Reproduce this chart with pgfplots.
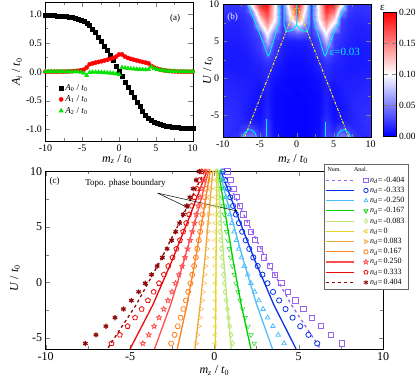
\documentclass[border=0pt]{standalone}
\usepackage{fontspec}
\setmainfont{Liberation Serif}
\usepackage{pgfplots}
\pgfplotsset{compat=1.18}
\usepackage{pgfplotstable}
\usetikzlibrary{plotmarks}

\definecolor{cpur}{RGB}{150,100,240}
\definecolor{cblu}{RGB}{10,50,230}
\definecolor{clbl}{RGB}{80,190,250}
\definecolor{cgrn}{RGB}{0,210,0}
\definecolor{clgr}{RGB}{190,230,120}
\definecolor{cyel}{RGB}{230,210,40}
\definecolor{clor}{RGB}{240,170,60}
\definecolor{corg}{RGB}{255,130,30}
\definecolor{cpnk}{RGB}{255,80,80}
\definecolor{cred}{RGB}{235,10,10}
\definecolor{cdrd}{RGB}{140,10,10}
\definecolor{ccyan}{RGB}{0,235,245}

\pgfdeclareplotmark{hexagon}{%
  \pgfpathmoveto{\pgfpointpolar{0}{\pgfplotmarksize}}%
  \pgfpathlineto{\pgfpointpolar{60}{\pgfplotmarksize}}%
  \pgfpathlineto{\pgfpointpolar{120}{\pgfplotmarksize}}%
  \pgfpathlineto{\pgfpointpolar{180}{\pgfplotmarksize}}%
  \pgfpathlineto{\pgfpointpolar{240}{\pgfplotmarksize}}%
  \pgfpathlineto{\pgfpointpolar{300}{\pgfplotmarksize}}%
  \pgfpathclose\pgfusepathqstroke}
\pgfdeclareplotmark{ostar}{%
  \pgfpathmoveto{\pgfpointpolar{90}{\pgfplotmarksize}}%
  \pgfpathlineto{\pgfpointpolar{126}{0.45\pgfplotmarksize}}%
  \pgfpathlineto{\pgfpointpolar{162}{\pgfplotmarksize}}%
  \pgfpathlineto{\pgfpointpolar{198}{0.45\pgfplotmarksize}}%
  \pgfpathlineto{\pgfpointpolar{234}{\pgfplotmarksize}}%
  \pgfpathlineto{\pgfpointpolar{270}{0.45\pgfplotmarksize}}%
  \pgfpathlineto{\pgfpointpolar{306}{\pgfplotmarksize}}%
  \pgfpathlineto{\pgfpointpolar{342}{0.45\pgfplotmarksize}}%
  \pgfpathlineto{\pgfpointpolar{18}{\pgfplotmarksize}}%
  \pgfpathlineto{\pgfpointpolar{54}{0.45\pgfplotmarksize}}%
  \pgfpathclose\pgfusepathqstroke}

\newcommand{\sub}[1]{\textsubscript{#1}}
\newcommand{\mzlab}{\textit{m}\sub{\textit{z}} / \textit{t}\sub{0}}
\newcommand{\Ulab}{\textit{U} / \textit{t}\sub{0}}
\newcommand{\nd}{\textit{n}\sub{\textit{d}}=\,}

\pgfplotstableread{
m A0 A1 A2
-10.0 0.980 0.002 0.002
-9.6 0.978 0.002 0.002
-9.2 0.976 0.002 0.002
-8.8 0.974 0.002 0.002
-8.4 0.971 0.002 0.002
-8.0 0.968 0.003 0.002
-7.6 0.964 0.003 0.002
-7.2 0.959 0.004 0.002
-6.8 0.952 0.006 0.001
-6.4 0.943 0.009 0.001
-6.0 0.932 0.013 0.000
-5.6 0.917 0.018 0.000
-5.2 0.898 0.025 -0.008
-4.8 0.875 0.035 -0.022
-4.4 0.845 0.075 -0.065
-4.0 0.800 0.130 -0.012
-3.6 0.745 0.145 -0.008
-3.2 0.680 0.158 -0.008
-2.8 0.605 0.170 -0.010
-2.4 0.530 0.182 -0.012
-2.0 0.450 0.195 -0.015
-1.6 0.370 0.208 -0.018
-1.2 0.290 0.222 -0.022
-0.8 0.200 0.240 -0.027
-0.4 0.100 0.262 -0.035
0.0 0.010 0.300 -0.050
0.4 -0.085 0.300 0.075
0.8 -0.185 0.262 0.065
1.2 -0.275 0.240 0.058
1.6 -0.360 0.222 0.052
2.0 -0.440 0.208 0.048
2.4 -0.525 0.195 0.045
2.8 -0.600 0.183 0.042
3.2 -0.675 0.170 0.040
3.6 -0.745 0.158 0.038
4.0 -0.800 0.145 0.040
4.4 -0.845 0.100 0.085
4.8 -0.875 0.072 0.055
5.2 -0.898 0.052 0.040
5.6 -0.917 0.038 0.030
6.0 -0.932 0.027 0.022
6.4 -0.943 0.019 0.016
6.8 -0.952 0.013 0.011
7.2 -0.959 0.009 0.008
7.6 -0.964 0.006 0.006
8.0 -0.968 0.004 0.004
8.4 -0.971 0.003 0.003
8.8 -0.974 0.003 0.003
9.2 -0.976 0.002 0.002
9.6 -0.978 0.002 0.002
10.0 -0.980 0.002 0.002
}\tabA

\pgfplotstableread{
U s1 s2 s3 s4 s5 s6 s7 s8 s9 s10 s11
10 0.77 0.50 0.40 0.30 0.15 0.05 -0.20 -0.40 -0.55 -0.75 -0.90
9.225 0.95 0.65 0.50 0.35 0.17 0.05 -0.22 -0.46 -0.65 -0.89 -1.08
8.45 1.13 0.80 0.60 0.41 0.20 0.05 -0.25 -0.52 -0.75 -1.04 -1.26
7.675 1.32 0.95 0.70 0.47 0.23 0.05 -0.27 -0.57 -0.85 -1.18 -1.45
6.9 1.51 1.11 0.81 0.53 0.25 0.05 -0.30 -0.64 -0.95 -1.34 -1.64
6.125 1.72 1.28 0.92 0.59 0.28 0.05 -0.32 -0.70 -1.07 -1.50 -1.84
5.35 1.93 1.46 1.04 0.66 0.31 0.05 -0.35 -0.77 -1.18 -1.67 -2.06
4.575 2.16 1.65 1.17 0.73 0.34 0.05 -0.38 -0.84 -1.31 -1.85 -2.29
3.8 2.41 1.86 1.31 0.80 0.38 0.05 -0.41 -0.92 -1.44 -2.04 -2.53
3.025 2.68 2.07 1.45 0.88 0.41 0.05 -0.45 -1.01 -1.59 -2.25 -2.80
2.25 2.96 2.31 1.61 0.97 0.45 0.05 -0.48 -1.10 -1.74 -2.48 -3.08
1.475 3.28 2.57 1.78 1.07 0.49 0.05 -0.53 -1.20 -1.91 -2.73 -3.39
0.7 3.61 2.85 1.97 1.17 0.54 0.05 -0.57 -1.31 -2.10 -2.99 -3.73
-0.075 3.98 3.15 2.17 1.28 0.59 0.05 -0.62 -1.42 -2.30 -3.28 -4.10
-0.85 4.38 3.48 2.39 1.40 0.64 0.05 -0.67 -1.55 -2.51 -3.60 -4.49
-1.625 4.81 3.84 2.63 1.53 0.70 0.05 -0.72 -1.69 -2.75 -3.94 -4.92
-2.4 5.28 4.22 2.89 1.68 0.77 0.05 -0.78 -1.84 -3.00 -4.31 -5.39
-3.175 5.78 4.64 3.16 1.83 0.84 0.05 -0.85 -2.00 -3.28 -4.70 -5.89
-3.95 6.33 5.09 3.47 2.00 0.91 0.05 -0.92 -2.17 -3.57 -5.14 -6.43
-4.725 6.92 5.58 3.79 2.18 0.99 0.05 -1.00 -2.36 -3.89 -5.60 -7.02
-5.5 7.55 6.10 4.14 2.37 1.08 0.05 -1.08 -2.56 -4.24 -6.10 -7.65
}\tabM

\pgfplotstableread{
U l1 l2 l3 l4 l5 l6 l7 l8 l9 l10 l11
10 0.50 0.40 0.30 0.25 0.20 0.15 -0.10 -0.25 -0.35 -0.45 -0.60
6 1.78 1.38 0.99 0.67 0.38 0.13 -0.33 -0.68 -1.05 -1.45 -1.87
2 3.11 2.40 1.72 1.11 0.56 0.10 -0.57 -1.13 -1.79 -2.50 -3.19
-2 4.56 3.52 2.51 1.59 0.76 0.08 -0.84 -1.62 -2.59 -3.64 -4.63
-6 6.30 4.85 3.45 2.17 1.00 0.05 -1.15 -2.20 -3.55 -5.00 -6.35
}\tabL

\pgfplotsset{
  every axis/.append style={
    /pgf/number format/assume math mode=true,
    tick align=inside,
    label style={font=\fontsize{12}{14}\selectfont},
  },
  mk/.style={only marks, mark size=2.6pt, mark options={solid, line width=0.8pt}},
  ln/.style={line width=1.3pt, forget plot},
  lgi/.style n args={3}{legend image code/.code={
     \draw[#1, line width=1.1pt] (0pt,0pt) -- (28pt,0pt);
     \draw[#2, solid, line width=0.8pt] plot[#3] coordinates {(40pt,0pt)};}},
}

\begin{document}
\begin{tikzpicture}
\useasboundingbox (0pt,0pt) rectangle (415pt,378pt);

%% ---------------- (a)
\begin{axis}[
  at={(45.5pt,237pt)}, anchor=south west, scale only axis,
  width=147.2pt, height=138.5pt,
  xmin=-10, xmax=10, ymin=-1.2, ymax=1.2,
  xtick={-10,-5,0,5,10}, ytick={-1,-0.5,0,0.5,1},
  minor x tick num=1, minor y tick num=1,
  tick label style={font=\fontsize{10}{12}\selectfont},
  yticklabel style={/pgf/number format/.cd, fixed, fixed zerofill, precision=1},
  xlabel={\mzlab}, ylabel={\textit{A}\sub{\textit{i}} / \textit{t}\sub{0}},
  xlabel style={at={(axis description cs:0.486,-0.13)}, anchor=center},
  ylabel style={at={(axis description cs:-0.194,0.5)}, anchor=center},
  legend style={at={(0.07,0.44)}, anchor=north west, draw=none, fill=none,
    font=\fontsize{9}{10}\selectfont, row sep=0pt},
  legend cell align=left,
]
\addplot[only marks, mark=square*, mark size=2pt, black] table[x=m,y=A0] {\tabA};
\addlegendentry{\textit{A}\sub{0} / \textit{t}\sub{0}}
\addplot[only marks, mark=*, mark size=2.1pt, red] table[x=m,y=A1] {\tabA};
\addlegendentry{\textit{A}\sub{1} / \textit{t}\sub{0}}
\addplot[only marks, mark=triangle*, mark size=2.5pt, green!90!black] table[x=m,y=A2] {\tabA};
\addlegendentry{\textit{A}\sub{2} / \textit{t}\sub{0}}
\node[font=\fontsize{9}{10}\selectfont] at (axis cs:7.6,0.93) {(a)};
\end{axis}

%% ---------------- (b)
\begin{axis}[
  at={(222.7pt,241pt)}, anchor=south west, scale only axis,
  width=148pt, height=132.5pt,
  xmin=-10, xmax=10, ymin=-8, ymax=10, enlargelimits=false,
  xtick={-10,-5,0,5,10}, ytick={-5,0,5,10},
  minor x tick num=1, minor y tick num=1,
  tick label style={font=\fontsize{10}{12}\selectfont},
  xlabel={\mzlab}, ylabel={\Ulab},
  xlabel style={at={(axis description cs:0.475,-0.167)}, anchor=center},
  ylabel style={at={(axis description cs:-0.099,0.5)}, anchor=center},
  axis on top,
  colormap={bwr}{rgb255=(0,0,255) rgb255=(255,255,255) rgb255=(255,0,0)},
  point meta min=0, point meta max=0.2,
  colorbar,
  colorbar style={scale only axis, at={(parent axis.north east)}, anchor=north west,
    xshift=4.3pt, yshift=-7.5pt, width=13pt, height=124pt,
    ytick={0,0.05,0.1,0.15,0.2},
    yticklabel style={font=\fontsize{9.5}{11}\selectfont, xshift=-1pt,
      /pgf/number format/.cd, fixed, fixed zerofill, precision=2}},
]
\addplot[surf, shader=interp, mesh/cols=21, point meta=explicit]
 table[x=m, y=U, meta=e, row sep=\\] {
m U e\\
-10 -8 0.018\\ -9 -8 0.016\\ -8 -8 0.020\\ -7 -8 0.042\\ -6 -8 0.050\\ -5 -8 0.022\\ -4 -8 0.025\\ -3 -8 0.006\\ -2 -8 0.003\\ -1 -8 0.002\\ 0 -8 0.002\\ 1 -8 0.002\\ 2 -8 0.003\\ 3 -8 0.006\\ 4 -8 0.025\\ 5 -8 0.022\\ 6 -8 0.050\\ 7 -8 0.042\\ 8 -8 0.020\\ 9 -8 0.016\\ 10 -8 0.018\\
-10 -7 0.019\\ -9 -7 0.017\\ -8 -7 0.016\\ -7 -7 0.024\\ -6 -7 0.030\\ -5 -7 0.015\\ -4 -7 0.022\\ -3 -7 0.005\\ -2 -7 0.003\\ -1 -7 0.002\\ 0 -7 0.002\\ 1 -7 0.002\\ 2 -7 0.003\\ 3 -7 0.005\\ 4 -7 0.022\\ 5 -7 0.015\\ 6 -7 0.030\\ 7 -7 0.024\\ 8 -7 0.016\\ 9 -7 0.017\\ 10 -7 0.019\\
-10 -6 0.020\\ -9 -6 0.018\\ -8 -6 0.015\\ -7 -6 0.013\\ -6 -6 0.012\\ -5 -6 0.008\\ -4 -6 0.020\\ -3 -6 0.004\\ -2 -6 0.003\\ -1 -6 0.002\\ 0 -6 0.002\\ 1 -6 0.002\\ 2 -6 0.003\\ 3 -6 0.004\\ 4 -6 0.020\\ 5 -6 0.008\\ 6 -6 0.012\\ 7 -6 0.013\\ 8 -6 0.015\\ 9 -6 0.018\\ 10 -6 0.020\\
-10 -5 0.019\\ -9 -5 0.018\\ -8 -5 0.016\\ -7 -5 0.011\\ -6 -5 0.008\\ -5 -5 0.006\\ -4 -5 0.015\\ -3 -5 0.004\\ -2 -5 0.003\\ -1 -5 0.002\\ 0 -5 0.002\\ 1 -5 0.002\\ 2 -5 0.003\\ 3 -5 0.004\\ 4 -5 0.015\\ 5 -5 0.006\\ 6 -5 0.008\\ 7 -5 0.011\\ 8 -5 0.016\\ 9 -5 0.018\\ 10 -5 0.019\\
-10 -4 0.018\\ -9 -4 0.017\\ -8 -4 0.016\\ -7 -4 0.012\\ -6 -4 0.008\\ -5 -4 0.006\\ -4 -4 0.013\\ -3 -4 0.004\\ -2 -4 0.003\\ -1 -4 0.002\\ 0 -4 0.002\\ 1 -4 0.002\\ 2 -4 0.003\\ 3 -4 0.004\\ 4 -4 0.013\\ 5 -4 0.006\\ 6 -4 0.008\\ 7 -4 0.012\\ 8 -4 0.016\\ 9 -4 0.017\\ 10 -4 0.018\\
-10 -3 0.017\\ -9 -3 0.016\\ -8 -3 0.015\\ -7 -3 0.013\\ -6 -3 0.009\\ -5 -3 0.006\\ -4 -3 0.012\\ -3 -3 0.004\\ -2 -3 0.003\\ -1 -3 0.002\\ 0 -3 0.002\\ 1 -3 0.002\\ 2 -3 0.003\\ 3 -3 0.004\\ 4 -3 0.012\\ 5 -3 0.006\\ 6 -3 0.009\\ 7 -3 0.013\\ 8 -3 0.015\\ 9 -3 0.016\\ 10 -3 0.017\\
-10 -2 0.016\\ -9 -2 0.015\\ -8 -2 0.014\\ -7 -2 0.013\\ -6 -2 0.010\\ -5 -2 0.007\\ -4 -2 0.012\\ -3 -2 0.005\\ -2 -2 0.003\\ -1 -2 0.003\\ 0 -2 0.002\\ 1 -2 0.003\\ 2 -2 0.003\\ 3 -2 0.005\\ 4 -2 0.012\\ 5 -2 0.007\\ 6 -2 0.010\\ 7 -2 0.013\\ 8 -2 0.014\\ 9 -2 0.015\\ 10 -2 0.016\\
-10 -1 0.015\\ -9 -1 0.014\\ -8 -1 0.013\\ -7 -1 0.012\\ -6 -1 0.011\\ -5 -1 0.008\\ -4 -1 0.013\\ -3 -1 0.006\\ -2 -1 0.004\\ -1 -1 0.003\\ 0 -1 0.003\\ 1 -1 0.003\\ 2 -1 0.004\\ 3 -1 0.006\\ 4 -1 0.013\\ 5 -1 0.008\\ 6 -1 0.011\\ 7 -1 0.012\\ 8 -1 0.013\\ 9 -1 0.014\\ 10 -1 0.015\\
-10 0 0.014\\ -9 0 0.013\\ -8 0 0.012\\ -7 0 0.011\\ -6 0 0.011\\ -5 0 0.011\\ -4 0 0.014\\ -3 0 0.007\\ -2 0 0.004\\ -1 0 0.003\\ 0 0 0.003\\ 1 0 0.003\\ 2 0 0.004\\ 3 0 0.007\\ 4 0 0.014\\ 5 0 0.011\\ 6 0 0.011\\ 7 0 0.011\\ 8 0 0.012\\ 9 0 0.013\\ 10 0 0.014\\
-10 1 0.012\\ -9 1 0.011\\ -8 1 0.010\\ -7 1 0.010\\ -6 1 0.011\\ -5 1 0.012\\ -4 1 0.016\\ -3 1 0.010\\ -2 1 0.006\\ -1 1 0.004\\ 0 1 0.004\\ 1 1 0.004\\ 2 1 0.006\\ 3 1 0.010\\ 4 1 0.016\\ 5 1 0.012\\ 6 1 0.011\\ 7 1 0.010\\ 8 1 0.010\\ 9 1 0.011\\ 10 1 0.012\\
-10 2 0.011\\ -9 2 0.010\\ -8 2 0.010\\ -7 2 0.010\\ -6 2 0.012\\ -5 2 0.014\\ -4 2 0.020\\ -3 2 0.013\\ -2 2 0.008\\ -1 2 0.005\\ 0 2 0.005\\ 1 2 0.005\\ 2 2 0.008\\ 3 2 0.013\\ 4 2 0.020\\ 5 2 0.014\\ 6 2 0.012\\ 7 2 0.010\\ 8 2 0.010\\ 9 2 0.010\\ 10 2 0.011\\
-10 3 0.011\\ -9 3 0.010\\ -8 3 0.010\\ -7 3 0.010\\ -6 3 0.013\\ -5 3 0.018\\ -4 3 0.030\\ -3 3 0.018\\ -2 3 0.010\\ -1 3 0.007\\ 0 3 0.006\\ 1 3 0.007\\ 2 3 0.010\\ 3 3 0.018\\ 4 3 0.030\\ 5 3 0.018\\ 6 3 0.013\\ 7 3 0.010\\ 8 3 0.010\\ 9 3 0.010\\ 10 3 0.011\\
-10 4 0.011\\ -9 4 0.010\\ -8 4 0.010\\ -7 4 0.012\\ -6 4 0.015\\ -5 4 0.022\\ -4 4 0.045\\ -3 4 0.022\\ -2 4 0.012\\ -1 4 0.008\\ 0 4 0.008\\ 1 4 0.008\\ 2 4 0.012\\ 3 4 0.022\\ 4 4 0.045\\ 5 4 0.022\\ 6 4 0.015\\ 7 4 0.012\\ 8 4 0.010\\ 9 4 0.010\\ 10 4 0.011\\
-10 5 0.012\\ -9 5 0.011\\ -8 5 0.011\\ -7 5 0.013\\ -6 5 0.017\\ -5 5 0.024\\ -4 5 0.074\\ -3 5 0.027\\ -2 5 0.015\\ -1 5 0.012\\ 0 5 0.012\\ 1 5 0.012\\ 2 5 0.015\\ 3 5 0.027\\ 4 5 0.074\\ 5 5 0.024\\ 6 5 0.017\\ 7 5 0.013\\ 8 5 0.011\\ 9 5 0.011\\ 10 5 0.012\\
-10 6 0.013\\ -9 6 0.012\\ -8 6 0.012\\ -7 6 0.015\\ -6 6 0.020\\ -5 6 0.030\\ -4 6 0.100\\ -3 6 0.043\\ -2 6 0.020\\ -1 6 0.030\\ 0 6 0.035\\ 1 6 0.030\\ 2 6 0.020\\ 3 6 0.043\\ 4 6 0.100\\ 5 6 0.030\\ 6 6 0.020\\ 7 6 0.015\\ 8 6 0.012\\ 9 6 0.012\\ 10 6 0.013\\
-10 7 0.015\\ -9 7 0.013\\ -8 7 0.013\\ -7 7 0.016\\ -6 7 0.022\\ -5 7 0.073\\ -4 7 0.130\\ -3 7 0.077\\ -2 7 0.022\\ -1 7 0.050\\ 0 7 0.080\\ 1 7 0.050\\ 2 7 0.022\\ 3 7 0.077\\ 4 7 0.130\\ 5 7 0.073\\ 6 7 0.022\\ 7 7 0.016\\ 8 7 0.013\\ 9 7 0.013\\ 10 7 0.015\\
-10 8 0.017\\ -9 8 0.015\\ -8 8 0.015\\ -7 8 0.018\\ -6 8 0.026\\ -5 8 0.116\\ -4 8 0.160\\ -3 8 0.106\\ -2 8 0.025\\ -1 8 0.080\\ 0 8 0.150\\ 1 8 0.080\\ 2 8 0.025\\ 3 8 0.106\\ 4 8 0.160\\ 5 8 0.116\\ 6 8 0.026\\ 7 8 0.018\\ 8 8 0.015\\ 9 8 0.015\\ 10 8 0.017\\
-10 9 0.020\\ -9 9 0.018\\ -8 9 0.018\\ -7 9 0.022\\ -6 9 0.054\\ -5 9 0.153\\ -4 9 0.177\\ -3 9 0.110\\ -2 9 0.025\\ -1 9 0.100\\ 0 9 0.180\\ 1 9 0.100\\ 2 9 0.025\\ 3 9 0.110\\ 4 9 0.177\\ 5 9 0.153\\ 6 9 0.054\\ 7 9 0.022\\ 8 9 0.018\\ 9 9 0.018\\ 10 9 0.020\\
-10 10 0.022\\ -9 10 0.020\\ -8 10 0.020\\ -7 10 0.025\\ -6 10 0.103\\ -5 10 0.186\\ -4 10 0.191\\ -3 10 0.113\\ -2 10 0.025\\ -1 10 0.120\\ 0 10 0.200\\ 1 10 0.120\\ 2 10 0.025\\ 3 10 0.113\\ 4 10 0.191\\ 5 10 0.186\\ 6 10 0.103\\ 7 10 0.025\\ 8 10 0.020\\ 9 10 0.020\\ 10 10 0.022\\
};
\addplot[yellow!90!orange, line width=1pt, dash pattern=on 3pt off 1.5pt on 1pt off 1.5pt] coordinates {(-7.02,-8) (0,10)};
\addplot[yellow!90!orange, line width=1pt, dash pattern=on 3pt off 1.5pt on 1pt off 1.5pt] coordinates {(7.02,-8) (0,10)};
\addplot[ccyan, line width=0.9pt] coordinates {(-6.6,10) (-6.0,8.5) (-5.4,7) (-4.8,5.5) (-4.3,4.2) (-4.0,3.3) (-3.85,3.0) (-3.65,3.3) (-3.4,4.2) (-3.1,5.2) (-2.8,6.2) (-2.5,7.2) (-2.3,8) (-2.3,10)};
\addplot[ccyan, line width=0.9pt] coordinates {(6.6,10) (6.0,8.5) (5.4,7) (4.8,5.5) (4.3,4.2) (4.0,3.3) (3.85,3.0) (3.65,3.3) (3.4,4.2) (3.1,5.2) (2.8,6.2) (2.5,7.2) (2.3,8) (2.3,10)};
\addplot[ccyan, line width=0.9pt] coordinates {(-1.7,10) (-1.7,7.2) (-1.4,6.3) (-0.6,6.5) (0,7.2) (0.6,6.5) (1.4,6.3) (1.7,7.2) (1.7,10)};
\addplot[ccyan, line width=0.9pt] coordinates {(0,7.2) (0,10)};
\addplot[ccyan, line width=0.9pt] coordinates {(-7.3,-8) (-7.0,-7.4) (-6.5,-7.0) (-6.0,-7.1) (-5.6,-7.5) (-5.45,-8)};
\addplot[ccyan, line width=0.9pt] coordinates {(7.3,-8) (7.0,-7.4) (6.5,-7.0) (6.0,-7.1) (5.6,-7.5) (5.45,-8)};
\addplot[ccyan, line width=0.9pt] coordinates {(-4.05,-8) (-4.05,-5.6)};
\addplot[ccyan, line width=0.9pt] coordinates {(3.85,-8) (3.85,-5.9)};
\node[font=\fontsize{11}{12}\selectfont, text=ccyan] at (axis cs:6.5,3.5) {ε=0.03};
\node[font=\fontsize{9}{10}\selectfont, text=white] at (axis cs:-8.66,8.3) {(b)};
\end{axis}
\node[font=\fontsize{11}{12}\selectfont, anchor=base, inner sep=0pt] at (382.5pt,367.5pt) {ε};

%% ---------------- (c)
\begin{axis}[
  at={(45.7pt,29pt)}, anchor=south west, scale only axis,
  width=337.3pt, height=177.5pt,
  xmin=-10, xmax=10, ymin=-6, ymax=10,
  xtick={-10,-5,0,5,10}, ytick={-5,0,5,10},
  minor x tick num=1, minor y tick num=1,
  tick label style={font=\fontsize{12}{14}\selectfont},
  xlabel={\mzlab}, ylabel={\Ulab},
  xlabel style={at={(axis description cs:0.5,-0.122)}, anchor=center},
  ylabel style={at={(axis description cs:-0.091,0.4)}, anchor=center},
  legend style={at={(1.074,1.042)}, anchor=north east, fill=white, draw=black!60,
    font=\fontsize{8}{9}\selectfont, inner sep=1.5pt, row sep=-0.6pt},
  legend cell align=left,
]
\addplot[cpur, ln, dashed] table[x=l1,y=U] {\tabL};
\addplot[cblu, ln] table[x=l2,y=U] {\tabL};
\addplot[clbl, ln] table[x=l3,y=U] {\tabL};
\addplot[cgrn, ln] table[x=l4,y=U] {\tabL};
\addplot[clgr, ln] table[x=l5,y=U] {\tabL};
\addplot[cyel, ln] table[x=l6,y=U] {\tabL};
\addplot[clor, ln] table[x=l7,y=U] {\tabL};
\addplot[corg, ln] table[x=l8,y=U] {\tabL};
\addplot[cpnk, ln] table[x=l9,y=U] {\tabL};
\addplot[cred, ln] table[x=l10,y=U] {\tabL};
\addplot[cdrd, ln, dashed] table[x=l11,y=U] {\tabL};

\addplot[mk, cpur, mark=square, forget plot] table[x=s1,y=U] {\tabM};
\addplot[mk, cblu, mark=o, forget plot] table[x=s2,y=U] {\tabM};
\addplot[mk, clbl, mark=triangle, forget plot] table[x=s3,y=U] {\tabM};
\addplot[mk, cgrn, mark=triangle, mark options={rotate=180}, forget plot] table[x=s4,y=U] {\tabM};
\addplot[mk, clgr, mark=diamond, forget plot] table[x=s5,y=U] {\tabM};
\addplot[mk, cyel, mark=triangle, mark options={rotate=90}, forget plot] table[x=s6,y=U] {\tabM};
\addplot[mk, clor, mark=triangle, mark options={rotate=-90}, forget plot] table[x=s7,y=U] {\tabM};
\addplot[mk, corg, mark=hexagon, forget plot] table[x=s8,y=U] {\tabM};
\addplot[mk, cpnk, mark=ostar, forget plot] table[x=s9,y=U] {\tabM};
\addplot[mk, cred, mark=pentagon, forget plot] table[x=s10,y=U] {\tabM};
\addplot[mk, cdrd, mark=asterisk, mark options={line width=1.2pt}, forget plot] table[x=s11,y=U] {\tabM};

\addlegendimage{empty legend}
\addlegendentry{\fontsize{6}{6}\selectfont\llap{Num.\hspace{13pt}Anal.\hspace{3pt}}}
\addlegendimage{cpur, lgi={cpur,dashed}{cpur}{mark=square, mark size=2.2pt}}
\addlegendentry{\nd -0.404}
\addlegendimage{cblu, lgi={cblu}{cblu}{mark=o, mark size=2.2pt}}
\addlegendentry{\nd -0.333}
\addlegendimage{clbl, lgi={clbl}{clbl}{mark=triangle, mark size=2.2pt}}
\addlegendentry{\nd -0.250}
\addlegendimage{cgrn, lgi={cgrn}{cgrn}{mark=triangle, mark size=2.2pt, mark options={rotate=180}}}
\addlegendentry{\nd -0.167}
\addlegendimage{clgr, lgi={clgr}{clgr}{mark=diamond, mark size=2.2pt}}
\addlegendentry{\nd -0.083}
\addlegendimage{cyel, lgi={cyel}{cyel}{mark=triangle, mark size=2.2pt, mark options={rotate=90}}}
\addlegendentry{\nd 0}
\addlegendimage{clor, lgi={clor}{clor}{mark=triangle, mark size=2.2pt, mark options={rotate=-90}}}
\addlegendentry{\nd 0.083}
\addlegendimage{corg, lgi={corg}{corg}{mark=hexagon, mark size=2.2pt}}
\addlegendentry{\nd 0.167}
\addlegendimage{cpnk, lgi={cpnk}{cpnk}{mark=ostar, mark size=2.4pt}}
\addlegendentry{\nd 0.250}
\addlegendimage{cred, lgi={cred}{cred}{mark=pentagon, mark size=2.2pt}}
\addlegendentry{\nd 0.333}
\addlegendimage{cdrd, lgi={cdrd,dashed}{cdrd}{mark=asterisk, mark size=2.4pt}}
\addlegendentry{\nd 0.404}

\node[font=\fontsize{9}{10}\selectfont] at (axis cs:-9.47,9.1) {(c)};
\node[font=\fontsize{9}{10}\selectfont] at (axis cs:-5.27,8.95) {Topo. phase boundary};
\draw[-stealth, line width=0.5pt] (axis cs:-3.36,8.05) -- (axis cs:-1.48,6.68);
\draw[-stealth, line width=0.5pt] (axis cs:-3.36,8.05) -- (axis cs:1.38,6.43);
\end{axis}
\end{tikzpicture}
\end{document}
